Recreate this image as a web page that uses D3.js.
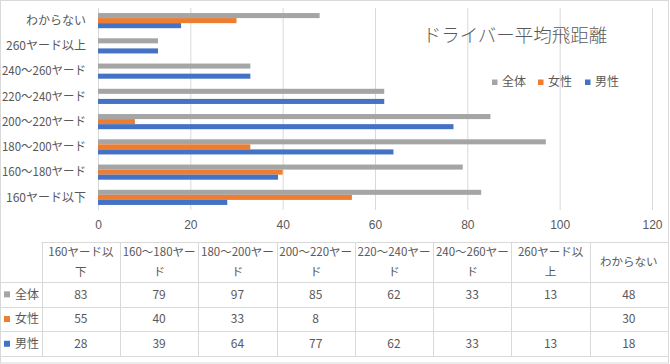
<!DOCTYPE html>
<html>
<head>
<meta charset="utf-8">
<script src="https://cdn.jsdelivr.net/npm/d3@7"></script>
<style>
  body { margin: 0; background: #fff; }
  svg { display: block; font-family: "Noto Sans CJK JP", "Noto Sans", sans-serif; }
  text { fill: #595959; }
</style>
</head>
<body>
<svg id="chart" width="670" height="364"></svg>
<script>
// categories in table order (left to right); the chart draws them bottom to top
const categories = ['160ヤード以下', '160～180ヤード', '180～200ヤード', '200～220ヤード',
  '220～240ヤード', '240～260ヤード', '260ヤード以上', 'わからない'];
const seriesNames = ['全体', '女性', '男性'];
const seriesColors = ['#a5a5a5', '#ed7d31', '#4472c4'];
const totalValues = [83, 79, 97, 85, 62, 33, 13, 48];
const femaleValues = [55, 40, 33, 8, null, null, null, 30];
const maleValues = [28, 39, 64, 77, 62, 33, 13, 18];
const xTicks = [0, 20, 40, 60, 80, 100, 120];
const title = 'ドライバー平均飛距離';

const seriesValues = [totalValues, femaleValues, maleValues];

const svg = d3.select('#chart');
const W = 670, H = 364;

svg.append('rect')
  .attr('x', 0.5).attr('y', 0.5)
  .attr('width', W - 2).attr('height', H - 1.5)
  .attr('fill', '#fff').attr('stroke', '#d9d9d9');

const plot = { left: 98, right: 652, top: 8, bottom: 210 };

const x = d3.scaleLinear().domain([0, 120]).range([plot.left, plot.right]);
const y = d3.scaleBand()
  .domain(categories.slice().reverse())
  .range([plot.top, plot.bottom])
  .paddingInner(0.4)
  .paddingOuter(0.2);
const ySub = d3.scaleBand().domain(seriesNames).range([0, y.bandwidth()]);

// gridlines
const grid = svg.append('g')
  .attr('transform', 'translate(0,' + plot.bottom + ')')
  .call(d3.axisBottom(x).tickValues(xTicks).tickSize(-(plot.bottom - plot.top)).tickFormat(''));
grid.select('.domain').remove();
grid.selectAll('line').attr('stroke', '#d9d9d9');

// value axis labels
const xAxis = svg.append('g')
  .attr('transform', 'translate(0,' + plot.bottom + ')')
  .call(d3.axisBottom(x).tickValues(xTicks).tickSize(0).tickPadding(10));
xAxis.select('.domain').remove();
xAxis.selectAll('text').attr('font-size', 12).attr('fill', '#595959').attr('font-family', null);

// category labels (squeezed when wider than the room left of the plot)
const labelRight = 86, labelMaxW = 84;
svg.append('g').selectAll('text')
  .data(categories)
  .enter().append('text')
  .attr('x', labelRight)
  .attr('y', d => y(d) + y.bandwidth() / 2)
  .attr('dy', '0.35em')
  .attr('text-anchor', 'end')
  .attr('font-size', 12)
  .text(d => d)
  .each(function () {
    if (this.getComputedTextLength() > labelMaxW) {
      d3.select(this).attr('textLength', labelMaxW).attr('lengthAdjust', 'spacingAndGlyphs');
    }
  });

// bars
seriesNames.forEach(function (name, si) {
  const rows = categories.map((c, i) => ({ cat: c, value: seriesValues[si][i] }))
    .filter(d => d.value != null);
  svg.append('g').selectAll('rect')
    .data(rows)
    .enter().append('rect')
    .attr('x', x(0))
    .attr('y', d => y(d.cat) + ySub(name))
    .attr('width', d => x(d.value) - x(0))
    .attr('height', ySub.bandwidth())
    .attr('fill', seriesColors[si]);
});

// title
svg.append('text')
  .attr('x', 515).attr('y', 36)
  .attr('dy', '0.35em')
  .attr('text-anchor', 'middle')
  .attr('font-size', 18.5)
  .attr('font-weight', 300)
  .text(title);

// legend
const legendX = [492, 538, 585];
const legend = svg.append('g').selectAll('g')
  .data(seriesNames)
  .enter().append('g')
  .attr('transform', (d, i) => 'translate(' + legendX[i] + ',82)');
legend.append('rect')
  .attr('x', 0).attr('y', -2.5).attr('width', 5.5).attr('height', 5.5)
  .attr('fill', (d, i) => seriesColors[i]);
legend.append('text')
  .attr('x', 10).attr('y', 0).attr('dy', '0.35em')
  .attr('font-size', 12)
  .text(d => d);

// data table
const table = { left: 41.7, right: 668, top: 242, headerBottom: 282, rowH: 24.7 };
const col = d3.scaleBand().domain(categories).range([table.left, table.right]);
const rowTop = i => table.headerBottom + i * table.rowH;
const tableBottom = rowTop(seriesNames.length);

const tg = svg.append('g');
tg.append('line')
  .attr('x1', table.left).attr('x2', table.right)
  .attr('y1', table.top + 0.5).attr('y2', table.top + 0.5)
  .attr('stroke', '#d9d9d9');
d3.range(seriesNames.length + 1).forEach(function (i) {
  tg.append('line')
    .attr('x1', 1).attr('x2', table.right)
    .attr('y1', Math.round(rowTop(i)) + 0.5).attr('y2', Math.round(rowTop(i)) + 0.5)
    .attr('stroke', '#d9d9d9');
});
categories.forEach(function (c) {
  const cx = Math.round(col(c)) + 0.5;
  tg.append('line')
    .attr('x1', cx).attr('x2', cx)
    .attr('y1', table.top).attr('y2', tableBottom)
    .attr('stroke', '#d9d9d9');
});

// header cells, wrapped to the column width
const headerSize = 11.5;
categories.forEach(function (c) {
  const maxW = col.bandwidth() - 4;
  const cx = col(c) + col.bandwidth() / 2;
  const probe = tg.append('text').attr('font-size', headerSize).text('');
  const lines = [];
  let line = '';
  for (const ch of c) {
    probe.text(line + ch);
    if (line && probe.node().getComputedTextLength() > maxW) {
      lines.push(line);
      line = ch;
    } else {
      line += ch;
    }
  }
  lines.push(line);
  probe.remove();
  const midY = (table.top + table.headerBottom) / 2;
  const lh = 19.3;
  lines.forEach(function (l, li) {
    tg.append('text')
      .attr('x', cx)
      .attr('y', midY + (li - (lines.length - 1) / 2) * lh)
      .attr('dy', '0.35em')
      .attr('text-anchor', 'middle')
      .attr('font-size', headerSize)
      .text(l);
  });
});

// series rows
seriesNames.forEach(function (name, si) {
  const cy = rowTop(si) + table.rowH / 2;
  tg.append('rect')
    .attr('x', 4).attr('y', cy - 3).attr('width', 6).attr('height', 6)
    .attr('fill', seriesColors[si]);
  tg.append('text')
    .attr('x', 15).attr('y', cy).attr('dy', '0.35em')
    .attr('font-size', 12)
    .text(name);
  categories.forEach(function (c, i) {
    const v = seriesValues[si][i];
    if (v == null) return;
    tg.append('text')
      .attr('x', col(c) + col.bandwidth() / 2)
      .attr('y', cy).attr('dy', '0.35em')
      .attr('text-anchor', 'middle')
      .attr('font-size', 12)
      .text(v);
  });
});
</script>
</body>
</html>
